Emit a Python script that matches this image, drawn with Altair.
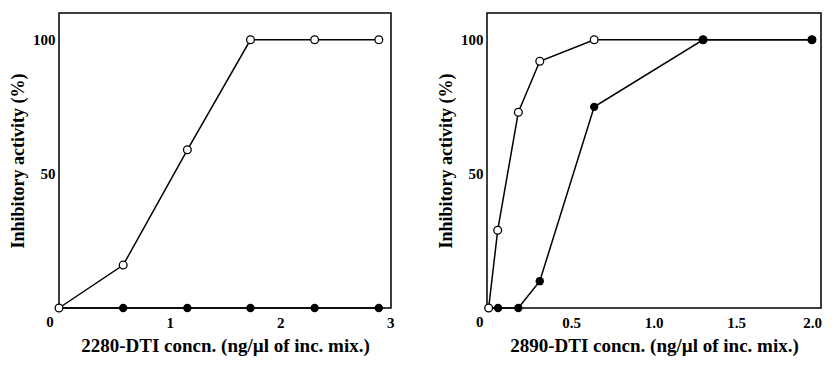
import altair as alt
import pandas as pd

# Left panel: 2280-DTI
left_x = [0.0, 0.58, 1.16, 1.73, 2.31, 2.89]
left_open_y = [0, 16, 59, 100, 100, 100]
left_filled_x = [0.0, 0.58, 1.16, 1.73, 2.31, 2.89]
left_filled_y = [0, 0, 0, 0, 0, 0]

# Right panel: 2890-DTI
right_open_x = [0.0, 0.055, 0.18, 0.31, 0.64, 1.30, 1.96]
right_open_y = [0, 29, 73, 92, 100, 100, 100]
right_filled_x = [0.0, 0.057, 0.18, 0.31, 0.64, 1.30, 1.96]
right_filled_y = [0, 0, 0, 10, 75, 100, 100]

left_ticks = [1, 2, 3]
right_ticks = [0.5, 1.0, 1.5, 2.0]
origin_label = ["0"]
y_ticks = [50, 100]

FONT = "Liberation Serif"


def panel(ox, oy, fx, fy, xdom, xticks, xfmt, xtitle, width):
    d_open = pd.DataFrame({"x": ox, "y": oy})
    d_fill = pd.DataFrame({"x": fx, "y": fy})
    d_origin = pd.DataFrame({"x": [0.0], "y": [0.0], "t": origin_label})
    xenc = alt.X(
        "x:Q",
        scale=alt.Scale(domain=xdom, nice=False, zero=False),
        axis=alt.Axis(
            values=xticks, format=xfmt, title=xtitle, grid=False, ticks=False,
            domain=False, labelPadding=7, titlePadding=6, titleFontSize=19,
            labelFlush=5, labelFlushOffset=3,
        ),
    )
    yenc = alt.Y(
        "y:Q",
        scale=alt.Scale(domain=[0, 110], nice=False),
        axis=alt.Axis(
            values=y_ticks, title="Inhibitory activity (%)", grid=False, ticks=False,
            domain=False, labelPadding=4, titlePadding=5, titleFontSize=18,
        ),
    )
    fill_line = alt.Chart(d_fill).mark_line(color="black", strokeWidth=1.5).encode(x=xenc, y=yenc)
    open_line = alt.Chart(d_open).mark_line(color="black", strokeWidth=1.5).encode(x=xenc, y=yenc)
    open_pts = alt.Chart(d_open).mark_point(
        shape="circle", filled=True, fill="white", stroke="black", strokeWidth=1.3, size=60, opacity=1
    ).encode(x=xenc, y=yenc)
    fill_pts = alt.Chart(d_fill).transform_filter("datum.x > 0").mark_point(
        shape="circle", filled=True, color="black", size=70, opacity=1
    ).encode(x=xenc, y=yenc)
    origin = alt.Chart(d_origin).mark_text(
        font=FONT, fontWeight="bold", fontSize=15, color="black",
        baseline="top", align="center", dx=-9, dy=7,
    ).encode(x=xenc, y=yenc, text="t:N")
    return alt.layer(fill_line, open_line, open_pts, fill_pts, origin).properties(width=width, height=295)


left = panel(left_x, left_open_y, left_filled_x, left_filled_y, [0, 3], left_ticks, "d",
             "2280-DTI concn. (ng/\u00b5l of inc. mix.)", 332)
right = panel(right_open_x, right_open_y, right_filled_x, right_filled_y, [-0.01, 2.015], right_ticks, ".1f",
              "2890-DTI concn. (ng/\u00b5l of inc. mix.)", 334)

chart = alt.hconcat(left, right, spacing=41).properties(
    padding={"left": 0, "top": 4, "right": 0, "bottom": 0},
    background="white",
).configure_view(
    stroke="black", strokeWidth=1.5
).configure_axis(
    labelFont=FONT, titleFont=FONT, labelFontWeight="bold", titleFontWeight="bold",
    labelFontSize=15, labelColor="black", titleColor="black",
)

chart.save("out.html", embed_options={"renderer": "svg", "actions": False})
